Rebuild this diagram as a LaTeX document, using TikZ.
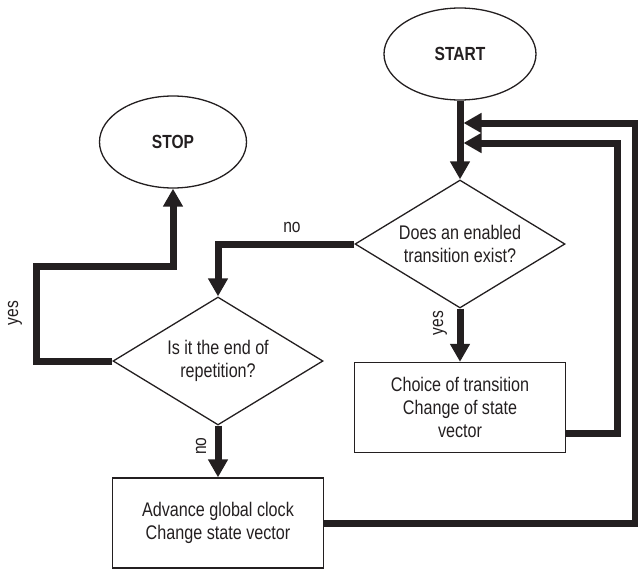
\documentclass[tikz,border=0pt]{standalone}
\usepackage{fontspec}
\setmainfont{Liberation Sans}[FakeStretch=0.82]
\usetikzlibrary{arrows.meta, positioning, shapes.geometric}
\definecolor{ink}{HTML}{231F20}

\begin{document}
\begin{tikzpicture}[
  x=1pt, y=-1pt,
  >={Triangle[length=18pt, width=19pt]},
  termnode/.style={
    ellipse, draw=ink, line width=1.3pt, minimum width=#1,
    minimum height=92pt, inner sep=0pt, text=ink,
    font=\fontsize{19pt}{23pt}\selectfont\bfseries
  },
  decision/.style={
    diamond, draw=ink, line width=1.3pt, aspect=1.64, inner sep=0pt,
    minimum width=210pt, minimum height=128pt, text=ink, align=center,
    font=\fontsize{19.7pt}{23pt}\selectfont
  },
  procbox/.style={
    rectangle, draw=ink, line width=1.3pt, inner sep=0pt,
    minimum width=211pt, minimum height=90pt, text=ink, align=center,
    font=\fontsize{19.7pt}{23pt}\selectfont
  },
  flow/.style={->, line width=7pt, ink},
  lbl/.style={font=\fontsize{19pt}{23pt}\selectfont, text=ink, inner sep=0pt},
]

% Page frame
\useasboundingbox (0,0) rectangle (638,570);

% =============================================
% Terminals
% =============================================
\node[termnode=152pt] (start) at (460,54) {START};
\node[termnode=147pt] (stop) at (173,142) {STOP};

% =============================================
% Decisions and actions
% =============================================
\node[decision] (enabled) at (460,244)
  {Does an enabled\\transition exist?};
\node[decision] (endrep) at (218,361)
  {Is it the end of\\repetition?};

\node[procbox] (choice) at (460,407.5)
  {Choice of transition\\Change of state\\vector};
\node[procbox] (advance) at (218,523)
  {Advance global clock\\Change state vector};

% Entry points of the two loops on the START line
\coordinate (loopA) at (463.5,123);
\coordinate (loopB) at (463.5,143);

% =============================================
% Connectors
% =============================================
\draw[flow] (start.south) -- (enabled.north);

% enabled? -> yes / no
\draw[flow] (enabled.south) -- (choice.north);
\node[lbl, rotate=90] at (440,323) {yes};

\draw[flow] (enabled.west) -| (endrep.north);
\node[lbl] at (292,227) {no};

% end of repetition? -> yes / no
\draw[flow] (endrep.west) -| (36,266) -| (stop.south);
\node[lbl, rotate=90] at (15,313) {yes};

\draw[flow] (endrep.south) -- (advance.north);
\node[lbl, rotate=90] at (201,446) {no};

% Loops back to the top
\draw[flow] ([yshift=-25.5pt]choice.east) -- ++(51,0) |- (loopB);
\draw[flow] (advance.east) -- ++(311,0) |- (loopA);

\end{tikzpicture}
\end{document}
